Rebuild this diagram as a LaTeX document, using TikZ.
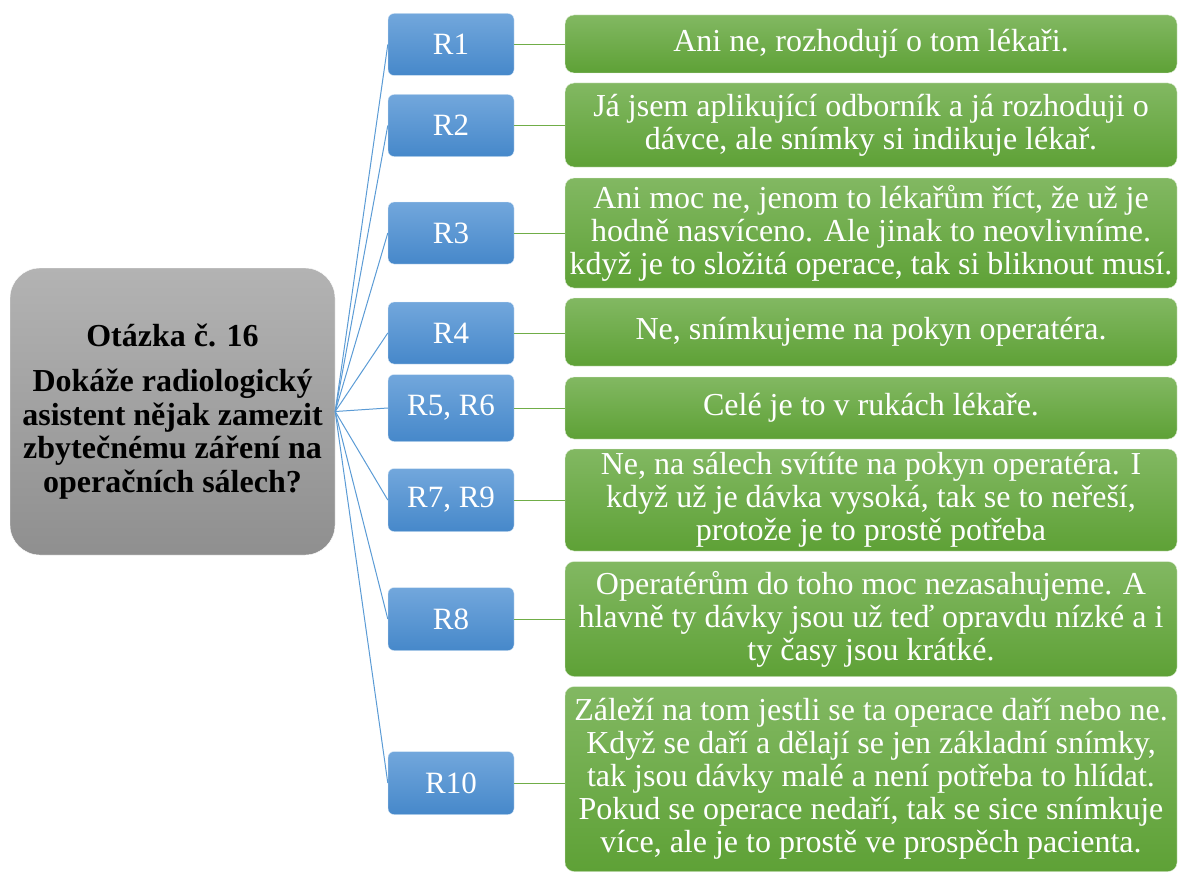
\documentclass[tikz,border=0pt]{standalone}
\usepackage{fontspec}
\setmainfont{Liberation Serif}
\usepackage{xcolor}
\usepackage{tikz}
\usetikzlibrary{positioning}

\definecolor{rblue}{HTML}{5B9BD5}
\definecolor{rbluetop}{HTML}{72A7DC}
\definecolor{rbluebot}{HTML}{4688CA}
\definecolor{agreen}{HTML}{70AD47}
\definecolor{agreentop}{HTML}{82B862}
\definecolor{agreenbot}{HTML}{5EA136}
\definecolor{qgreytop}{HTML}{B3B3B3}
\definecolor{qgreybot}{HTML}{8F8F8F}

\tikzset{
    question/.style={rounded corners=30pt, top color=qgreytop, bottom color=qgreybot,
        draw=white, thin, minimum width=325pt, minimum height=287pt,
        align=center, font=\fontsize{32}{33.5}\selectfont\bfseries, text=black},
    resp/.style={rounded corners=6pt, top color=rbluetop, bottom color=rbluebot,
        draw=white!80!rblue, thin, minimum width=126pt, align=center,
        font=\fontsize{31}{33}\selectfont, text=white},
    answer/.style={rounded corners=9pt, top color=agreentop, bottom color=agreenbot,
        draw=white!80!agreen, thin, minimum width=612pt, inner sep=0pt, align=center,
        font=\fontsize{32}{33}\selectfont, text=white},
    linkblue/.style={draw=rblue, line width=1pt},
    linkgreen/.style={draw=agreen, line width=1pt}
}

\begin{document}
\begin{tikzpicture}[x=1pt, y=-1pt]
    \useasboundingbox (0,0) rectangle (1180,872);

    % otazka
    \node[question] (q) at (172.5,411.5) {Otázka č. 16\\[12pt]
        Dokáže radiologický\\asistent nějak zamezit\\zbytečnému záření na\\operačních sálech?};

    % respondenti
    \node[resp, minimum height=62pt] (r1) at (451,44.5) {R1};
    \node[resp, minimum height=62pt] (r2) at (451,125.5) {R2};
    \node[resp, minimum height=62pt] (r3) at (451,233) {R3};
    \node[resp, minimum height=62pt] (r4) at (451,333) {R4};
    \node[resp, minimum height=67pt] (r5) at (451,408) {R5, R6};
    \node[resp, minimum height=63pt] (r7) at (451,500) {R7, R9};
    \node[resp, minimum height=63pt] (r8) at (451,619) {R8};
    \node[resp, minimum height=63pt] (r10) at (451,783) {R10};

    % odpovedi
    \node[answer, minimum height=58pt] (a1) at (871,44) {Ani ne, rozhodují o tom lékaři.};
    \node[answer, minimum height=84pt] (a2) at (871,125) {Já jsem aplikující odborník a já rozhoduji o\\dávce, ale snímky si indikuje lékař.};
    \node[answer, minimum height=110pt] (a3) at (871,233) {Ani moc ne, jenom to lékařům říct, že už je\\hodně nasvíceno. Ale jinak to neovlivníme.\\když je to složitá operace, tak si bliknout musí.};
    \node[answer, minimum height=68pt] (a4) at (871,332) {Ne, snímkujeme na pokyn operatéra.};
    \node[answer, minimum height=62pt] (a5) at (871,408) {Celé je to v rukách lékaře.};
    \node[answer, minimum height=102pt] (a6) at (871,500) {Ne, na sálech svítíte na pokyn operatéra. I\\když už je dávka vysoká, tak se to neřeší,\\protože je to prostě potřeba};
    \node[answer, minimum height=115pt] (a7) at (871,619) {Operatérům do toho moc nezasahujeme. A\\hlavně ty dávky jsou už teď opravdu nízké a i\\ty časy jsou krátké.};
    \node[answer, minimum height=185pt] (a8) at (871,779) {Záleží na tom jestli se ta operace daří nebo ne.\\Když se daří a dělají se jen základní snímky,\\tak jsou dávky malé a není potřeba to hlídat.\\Pokud se operace nedaří, tak se sice snímkuje\\více, ale je to prostě ve prospěch pacienta.};

    % spojnice
    \foreach \r in {r1,r2,r3,r4,r5,r7,r8,r10}
        \draw[linkblue] (q.east) -- (\r.west);
    \foreach \r/\a in {r1/a1,r2/a2,r3/a3,r4/a4,r5/a5,r7/a6,r8/a7,r10/a8}
        \draw[linkgreen] (\r.east) -- (\r.east -| \a.west);
\end{tikzpicture}
\end{document}
